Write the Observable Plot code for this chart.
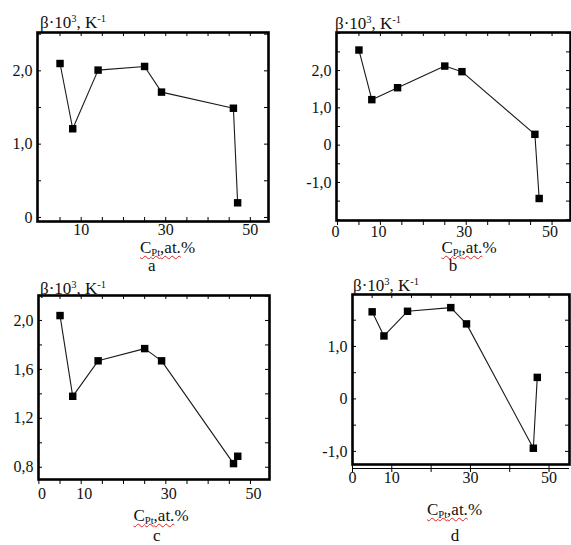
<!DOCTYPE html>
<html><head><meta charset="utf-8">
<script src="https://cdn.jsdelivr.net/npm/d3@7"></script>
<script src="https://cdn.jsdelivr.net/npm/@observablehq/plot@0.6"></script>
<style>
body{margin:0;background:#fff;}
#root{position:relative;width:571px;height:545px;overflow:hidden;font-family:"Liberation Serif","DejaVu Serif",serif;color:#111;}
.t{position:absolute;font-size:17px;line-height:1;white-space:nowrap;}
.t sup{font-size:0.62em;vertical-align:0.55em;line-height:0}
.t sub{font-size:0.62em;vertical-align:-0.25em;line-height:0}
.c{transform:translateX(-50%);}
.s{line-height:0.85;}
.sq{text-decoration:underline wavy #e02020;text-decoration-thickness:1px;text-underline-offset:2px;text-decoration-skip-ink:none;}
#root svg{position:absolute;}
</style></head>
<body><div id="root"></div>
<script>
// Pt concentration, at.%
const conc = [5, 8, 14, 25, 29, 46, 47];
// beta·10^3, K^-1 for each panel
const betaA = [2.10, 1.21, 2.01, 2.06, 1.71, 1.49, 0.20];
const betaB = [2.55, 1.22, 1.54, 2.12, 1.97, 0.29, -1.43];
const betaC = [2.04, 1.38, 1.67, 1.77, 1.67, 0.83, 0.89];
const betaD = [1.66, 1.20, 1.67, 1.74, 1.43, -0.94, 0.41];
// tick labels
const yLabelsA = [0, 1, 2];
const yLabelsB = [-1, 0, 1, 2];
const yLabelsC = [0.8, 1.2, 1.6, 2.0];
const yLabelsD = [-1, 0, 1];
const xLabelsA = [10, 30, 50];
const xLabelsBCD = [0, 10, 30, 50];
const panelLetters = ["a", "b", "c", "d"];

const fmt = v => v === 0 ? "0" : v.toFixed(1).replace(".", ",");
const range = (a, b, s) => d3.range(a, b + s / 2, s).map(v => +v.toFixed(3));

const panels = [
  {values: betaA, yLab: yLabelsA, xLab: xLabelsA, left: 0, top: 0, width: 285, height: 265,
   ml: 37, mt: 32, mr: 17, mb: 44, xDom: [-0.33, 54.3], yDom: [-0.055, 2.523],
   yMinor: range(0, 2.5, 0.5), xMinor: range(5, 50, 5), bottom: "in", xPad: 2, xdx: 0},
  {values: betaB, yLab: yLabelsB, xLab: xLabelsBCD, left: 285, top: 0, width: 286, height: 265,
   ml: 51, mt: 32, mr: 1, mb: 45, xDom: [-0.23, 54.3], yDom: [-2.02, 3.02],
   yMinor: range(-2, 3, 0.5), xMinor: range(5, 50, 5), bottom: "out", xOut: range(0, 50, 5), xPad: 5, xdx: -2},
  {values: betaC, yLab: yLabelsC, xLab: xLabelsBCD, left: 0, top: 265, width: 285, height: 280,
   ml: 38, mt: 30, mr: 16, mb: 66, xDom: [-0.09, 54.5], yDom: [0.70, 2.204],
   yMinor: range(0.8, 2.2, 0.2), xMinor: range(5, 50, 5), bottom: "out", xOut: range(0, 50, 5), xPad: 8, xdx: 3},
  {values: betaD, yLab: yLabelsD, xLab: xLabelsBCD, left: 285, top: 265, width: 286, height: 280,
   ml: 67, mt: 29, mr: 2, mb: 81, xDom: [0, 55.2], yDom: [-1.25, 1.99],
   yMinor: range(-1, 1.5, 0.5), xMinor: range(5, 55, 5), bottom: "line", xOut: range(0, 50, 10), xPad: 7, xdx: 0}
];

const root = document.getElementById("root");
const T = 4;
const FONT = "'Liberation Serif', 'DejaVu Serif', serif";

panels.forEach((p, i) => {
  const data = conc.map((x, j) => ({x, y: p.values[j]}));
  const pw = p.width - p.ml - p.mr, ph = p.height - p.mt - p.mb;
  const marks = [
    Plot.tickY(p.yMinor, {y: d => d, insetRight: pw - T, stroke: "#000", strokeWidth: 1}),
    Plot.tickY(p.yMinor, {y: d => d, insetLeft: pw - T, stroke: "#000", strokeWidth: 1}),
    Plot.tickX(p.xMinor, {x: d => d, insetBottom: ph - T, stroke: "#000", strokeWidth: 1})
  ];
  if (p.bottom === "in") {
    marks.push(Plot.tickX(p.xMinor, {x: d => d, insetTop: ph - T, stroke: "#000", strokeWidth: 1}));
  } else {
    marks.push(Plot.axisX({anchor: "bottom", ticks: p.xOut, tickSize: p.bottom === "line" ? 8 : 5,
      tickFormat: () => "", label: null, stroke: "#000"}));
    if (p.bottom === "line") marks.push(Plot.ruleY([p.yDom[0]], {dy: 4, stroke: "#000", strokeWidth: 1}));
  }
  marks.push(
    Plot.axisY({anchor: "left", ticks: p.yLab, tickSize: 0, tickPadding: 5, tickFormat: fmt,
      label: null, fontSize: 16, fontFamily: FONT, color: "#111"}),
    Plot.axisX({anchor: "bottom", ticks: p.xLab, tickSize: 0, tickPadding: p.xPad, tickFormat: d => String(d),
      label: null, fontSize: 16, fontFamily: FONT, color: "#111", dx: p.xdx}),
    Plot.frame({stroke: "#000", strokeWidth: 2.6}),
    Plot.line(data, {x: "x", y: "y", stroke: "#1a1a1a", strokeWidth: 1.1}),
    Plot.dot(data, {x: "x", y: "y", symbol: "square", r: 4.2, fill: "#000", stroke: "none"})
  );
  const svg = Plot.plot({
    width: p.width, height: p.height,
    marginLeft: p.ml, marginTop: p.mt, marginRight: p.mr, marginBottom: p.mb,
    x: {domain: p.xDom}, y: {domain: p.yDom},
    style: {fontFamily: FONT, fontSize: "16px", background: "transparent", overflow: "visible"},
    marks
  });
  svg.style.left = p.left + "px";
  svg.style.top = p.top + "px";
  root.appendChild(svg);
});

// text labels (titles, x-axis labels, panel letters)
const title = "β·10<sup>3</sup>, K<sup>-1</sup>";
const xTitle = "<span class='sq'>C<sub>Pt</sub>,at.</span>%";
const texts = [
  {html: title, x: 40, y: 14, c: false},
  {html: title, x: 335, y: 15, c: false},
  {html: title, x: 40, y: 280, c: false},
  {html: title, x: 353, y: 277, c: false},
  {html: xTitle, x: 167.5, y: 240.5, c: true, s: true},
  {html: xTitle, x: 469, y: 240.5, c: true, s: true},
  {html: xTitle, x: 161, y: 509, c: true, s: true},
  {html: xTitle, x: 454.5, y: 503, c: true, s: true},
  {html: panelLetters[0], x: 151.7, y: 258.5, c: true, s: true},
  {html: panelLetters[1], x: 453, y: 259, c: true, s: true},
  {html: panelLetters[2], x: 156.7, y: 529, c: true, s: true},
  {html: panelLetters[3], x: 455, y: 529, c: true, s: true}
];
texts.forEach(t => {
  const d = document.createElement("div");
  d.className = "t" + (t.c ? " c" : "") + (t.s ? " s" : "");
  d.style.left = t.x + "px";
  d.style.top = t.y + "px";
  d.innerHTML = t.html;
  root.appendChild(d);
});
</script>
</body></html>
